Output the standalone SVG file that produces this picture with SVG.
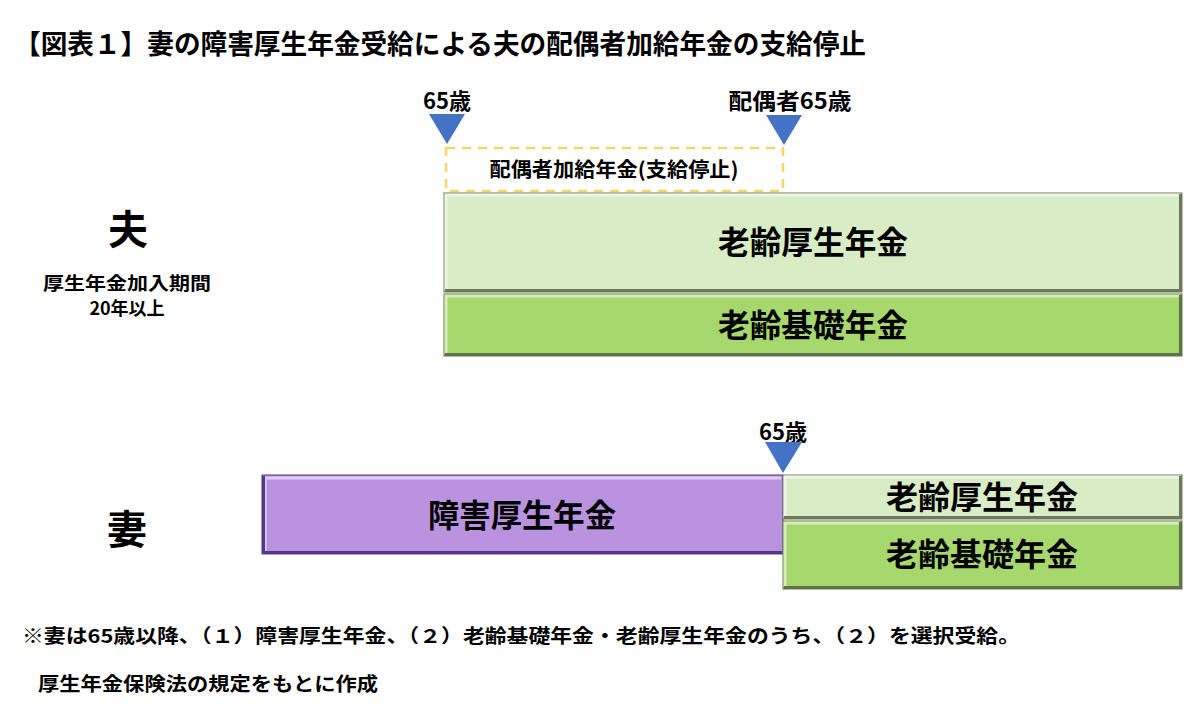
<svg xmlns="http://www.w3.org/2000/svg" width="1200" height="704" viewBox="0 0 1200 704">
<style>
text{font-family:"Noto Sans CJK JP","Noto Sans",sans-serif;font-weight:bold;fill:#000}
.hl{fill:none;stroke:#ffffff;stroke-opacity:0.55;stroke-width:3}
.sh{fill:none;stroke-width:3}
.tri{fill:#4472c4}
.box{stroke-width:1}
</style>
<rect width="1200" height="704" fill="#fff"/>
<text x="14" y="54" font-size="27" textLength="852" lengthAdjust="spacingAndGlyphs">【図表１】妻の障害厚生年金受給による夫の配偶者加給年金の支給停止</text>

<g id="husband-label">
<text x="128" y="244" font-size="40" text-anchor="middle">夫</text>
<text x="127" y="290" font-size="18" text-anchor="middle" textLength="168" lengthAdjust="spacingAndGlyphs">厚生年金加入期間</text>
<text x="127" y="315" font-size="18" text-anchor="middle">20年以上</text>
</g>

<g id="wife-label">
<text x="127" y="544" font-size="40" text-anchor="middle">妻</text>
</g>

<g id="marker-h65">
<text x="447" y="109" font-size="22" text-anchor="middle" textLength="48" lengthAdjust="spacingAndGlyphs">65歳</text>
<polygon class="tri" points="429,114 465,114 447,144"/>
</g>
<g id="marker-spouse65">
<text x="790" y="109" font-size="22" text-anchor="middle" textLength="123" lengthAdjust="spacingAndGlyphs">配偶者65歳</text>
<polygon class="tri" points="766,115 802,115 784,145"/>
</g>

<g id="spousal-allowance">
<rect x="446" y="148" width="337" height="43" fill="none" stroke="#f5d46a" stroke-width="2.5" stroke-dasharray="9,7"/>
<text x="614" y="177" font-size="20" text-anchor="middle" textLength="249" lengthAdjust="spacingAndGlyphs">配偶者加給年金(支給停止)</text>
</g>

<g id="h-kousei">
<rect class="box" x="444" y="193" width="738" height="99" fill="#d8ecc5" stroke="#6f7d61"/>
<polyline class="hl" points="446,290 446,195 1180,195"/>
<polyline class="sh" stroke="#6b7a5a" points="445,290.5 1180.5,290.5 1180.5,194"/>
<text x="813" y="254" font-size="32" text-anchor="middle" textLength="190" lengthAdjust="spacingAndGlyphs">老齢厚生年金</text>
</g>
<g id="h-kiso">
<rect class="box" x="444" y="294" width="738" height="62" fill="#a7d86e" stroke="#5f7a48"/>
<polyline class="hl" points="446,354 446,296 1180,296"/>
<polyline class="sh" stroke="#5e7348" points="445,354.5 1180.5,354.5 1180.5,295"/>
<text x="813" y="337" font-size="32" text-anchor="middle" textLength="190" lengthAdjust="spacingAndGlyphs">老齢基礎年金</text>
</g>

<g id="marker-w65">
<text x="783" y="440" font-size="22" text-anchor="middle" textLength="48" lengthAdjust="spacingAndGlyphs">65歳</text>
<polygon class="tri" points="765,442 802,442 783,473"/>
</g>

<g id="w-shougai">
<rect class="box" x="262" y="475" width="521" height="79" fill="#b992e0" stroke="#4f3380"/>
<polyline class="hl" points="265,552 265,478 781,478"/>
<polyline class="sh" stroke="#54378a" points="263.5,552.5 782,552.5"/>
<polyline class="sh" stroke="#54378a" points="263.5,476 263.5,553"/>
<text x="522" y="527" font-size="32" text-anchor="middle" textLength="188" lengthAdjust="spacingAndGlyphs">障害厚生年金</text>
</g>
<g id="w-kousei">
<rect class="box" x="783" y="475" width="399" height="44" fill="#d8ecc5" stroke="#6f7d61"/>
<polyline class="hl" points="785,517 785,477 1180,477"/>
<polyline class="sh" stroke="#6b7a5a" points="784,517.5 1180.5,517.5 1180.5,476"/>
<text x="982" y="509" font-size="32" text-anchor="middle" textLength="192" lengthAdjust="spacingAndGlyphs">老齢厚生年金</text>
</g>
<g id="w-kiso">
<rect class="box" x="783" y="521" width="399" height="68" fill="#a7d86e" stroke="#5f7a48"/>
<polyline class="hl" points="785,587 785,523 1180,523"/>
<polyline class="sh" stroke="#5e7348" points="784,587.5 1180.5,587.5 1180.5,522"/>
<text x="982" y="566" font-size="32" text-anchor="middle" textLength="192" lengthAdjust="spacingAndGlyphs">老齢基礎年金</text>
</g>

<g id="notes">
<text x="22" y="643" font-size="19" textLength="998" lengthAdjust="spacingAndGlyphs">※妻は65歳以降、（１）障害厚生年金、（２）老齢基礎年金・老齢厚生年金のうち、（２）を選択受給。</text>
<text x="38" y="691" font-size="19" textLength="340" lengthAdjust="spacingAndGlyphs">厚生年金保険法の規定をもとに作成</text>
</g>
<g id="connectors"></g>
</svg>
